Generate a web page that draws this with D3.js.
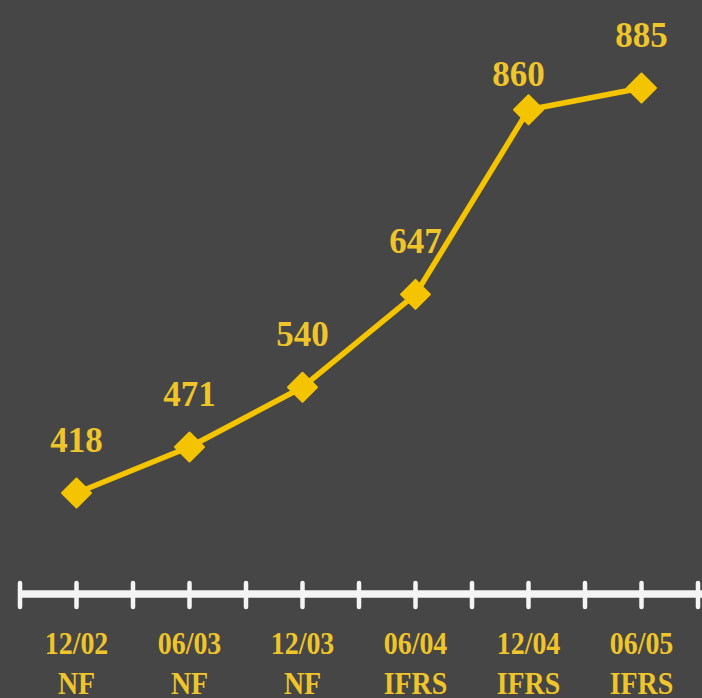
<!DOCTYPE html>
<html>
<head>
<meta charset="utf-8">
<script src="https://cdn.jsdelivr.net/npm/d3@7"></script>
<style>
  html, body { margin: 0; padding: 0; background: #464646; }
  #chart { width: 702px; height: 698px; }
  text { font-family: "Liberation Serif", "Times New Roman", serif; font-weight: bold; }
</style>
</head>
<body>
<div id="chart"></div>
<script>
// 数据
const periods = ['12/02', '06/03', '12/03', '06/04', '12/04', '06/05'];
const standards = ['NF', 'NF', 'NF', 'IFRS', 'IFRS', 'IFRS'];
const values = [418, 471, 540, 647, 860, 885];

const width = 702;
const height = 698;
const yellow = '#f5c400';
const labelYellow = '#efc52a';

const svg = d3.select('#chart')
    .append('svg')
    .attr('width', width)
    .attr('height', height)
    .attr('viewBox', [0, 0, width, height]);

svg.append('rect')
    .attr('width', width)
    .attr('height', height)
    .attr('fill', '#464646');

// 比例尺
const x = d3.scaleBand()
    .domain(periods)
    .range([20, 698])
    .padding(0);

const y = d3.scaleLinear()
    .domain([418, 885])
    .range([493, 88]);

const cx = d => x(d) + x.bandwidth() / 2;

// 横轴
const axisY = 594;
svg.append('line')
    .attr('x1', 20).attr('x2', width)
    .attr('y1', axisY).attr('y2', axisY)
    .attr('stroke', '#f4f4f4')
    .attr('stroke-width', 7.5);

const tickXs = [];
periods.forEach(p => { tickXs.push(x(p)); tickXs.push(cx(p)); });
tickXs.push(x(periods[periods.length - 1]) + x.bandwidth());

svg.selectAll('.tick')
    .data(tickXs)
    .join('line')
    .attr('class', 'tick')
    .attr('x1', d => d).attr('x2', d => d)
    .attr('y1', axisY - 11).attr('y2', axisY + 13)
    .attr('stroke', '#f4f4f4')
    .attr('stroke-width', 4.5)
    .attr('stroke-linecap', 'round');

// 分类标签（两行，字形略窄）
const cat = svg.selectAll('.cat')
    .data(periods)
    .join('g')
    .attr('class', 'cat')
    .attr('transform', d => `translate(${cx(d)},0) scale(0.9,1)`);

cat.append('text')
    .attr('x', 0)
    .attr('y', 654)
    .attr('text-anchor', 'middle')
    .attr('font-size', 31)
    .attr('fill', labelYellow)
    .text(d => d);

cat.append('text')
    .attr('x', 0)
    .attr('y', 694)
    .attr('text-anchor', 'middle')
    .attr('font-size', 31)
    .attr('fill', labelYellow)
    .text((d, i) => standards[i]);

// 折线
const pts = periods.map((p, i) => [cx(p), y(values[i])]);

svg.append('path')
    .attr('d', d3.line()(pts))
    .attr('fill', 'none')
    .attr('stroke', yellow)
    .attr('stroke-width', 5.5)
    .attr('stroke-linejoin', 'round');

// 菱形标记
svg.selectAll('.marker')
    .data(pts)
    .join('path')
    .attr('class', 'marker')
    .attr('d', d3.symbol().type(d3.symbolSquare).size(420))
    .attr('transform', d => `translate(${d[0]},${d[1]}) rotate(45)`)
    .attr('fill', yellow)
    .attr('stroke', yellow)
    .attr('stroke-width', 2)
    .attr('stroke-linejoin', 'round');

// 数值标签（860 稍微偏左偏下）
const nudge = (i) => (values[i] === 860 ? [-10, 17] : [0, 0]);

svg.selectAll('.val')
    .data(values)
    .join('text')
    .attr('class', 'val')
    .attr('x', (d, i) => pts[i][0] + nudge(i)[0])
    .attr('y', (d, i) => pts[i][1] - 41 + nudge(i)[1])
    .attr('text-anchor', 'middle')
    .attr('font-size', 35)
    .attr('fill', labelYellow)
    .text(d => d);
</script>
</body>
</html>
